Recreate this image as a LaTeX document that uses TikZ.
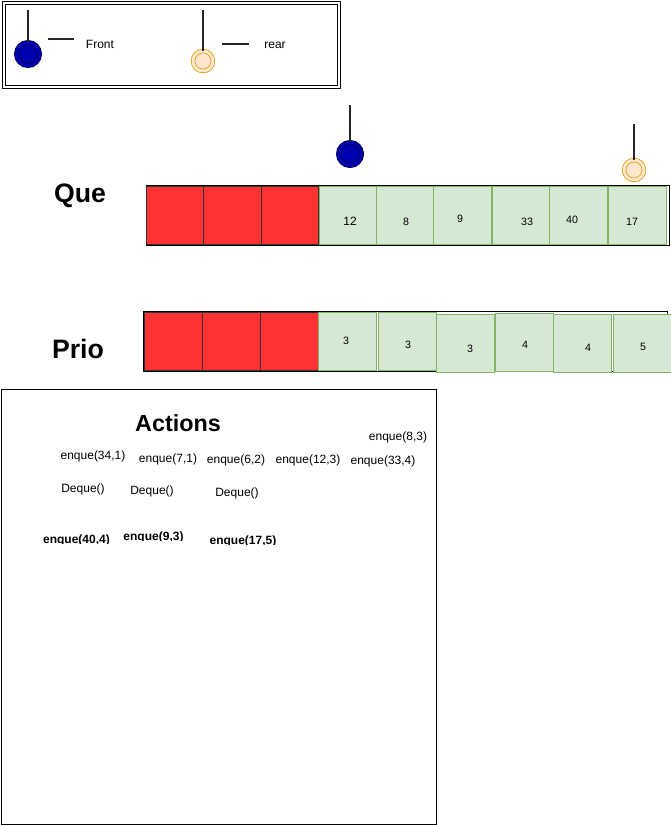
\documentclass[tikz,border=0pt]{standalone}
\usepackage{fontspec}
\setmainfont{Liberation Sans}
\usetikzlibrary{positioning}

\definecolor{cellred}{HTML}{FF3333}
\definecolor{cellgreen}{HTML}{D5E8D4}
\definecolor{cellgreenline}{HTML}{82B366}
\definecolor{frontblue}{HTML}{0000B4}
\definecolor{frontline}{HTML}{000050}
\definecolor{rearfill}{HTML}{FFE6CC}
\definecolor{rearline}{HTML}{D79B00}

\tikzset{
	cell/.style = {rectangle, minimum width=43pt, minimum height=43.5pt, inner sep=0pt, outer sep=0pt, line width=0.75pt},
	usedcell/.style = {cell, draw=black!80, fill=cellred},
	freecell/.style = {cell, draw=cellgreenline, fill=cellgreen},
	frontptr/.style = {circle, minimum size=17pt, inner sep=0pt, draw=frontline, line width=0.7pt, fill=frontblue, double=frontblue, double distance=2.6pt},
	rearptr/.style = {circle, minimum size=15pt, inner sep=0pt, draw=rearline, line width=0.55pt, fill=rearfill, double=rearfill, double distance=2.2pt},
	stick/.style = {line width=1.1pt, draw=black!85},
	small/.style = {font=\fontsize{9}{11}\selectfont, inner sep=0pt},
	digit/.style = {font=\fontsize{8}{10}\selectfont, inner sep=0pt},
	smallbold/.style = {font=\fontsize{9}{11}\selectfont\bfseries, inner sep=0pt, anchor=base},
	title/.style = {font=\fontsize{20}{24}\selectfont\bfseries, inner sep=0pt}
}

\begin{document}
\begin{tikzpicture}[x=0.75pt, y=-0.75pt]
	\useasboundingbox (0,0) rectangle (671,825);

	% legend
	\node [draw, double, double distance=1.5pt, line width=0.75pt, minimum width=251.25pt, minimum height=63pt, inner sep=0pt] (legend) at (171,44.5) {};
	\node [frontptr] (lfront) at (28,54) {};
	\node [rearptr] (lrear) at (203,61) {};
	\coordinate (lfronttop) at (28,10);
	\coordinate (lreartop) at (203,10);
	\draw [stick] (lfronttop) -- (lfront.north);
	\draw [stick] (lreartop) -- (lrear.north);
	\coordinate (dash1a) at (48,39);
	\coordinate (dash1b) at (74,39);
	\coordinate (dash2a) at (222,44);
	\coordinate (dash2b) at (249,44);
	\draw [stick] (dash1a) -- (dash1b);
	\draw [stick] (dash2a) -- (dash2b);
	\node [small] (frontlbl) at (100,44) {Front};
	\node [small] (rearlbl) at (275,45) {rear};

	% queue of values
	\node [title] (que) at (80,196) {Que};
	\node [draw, line width=0.75pt, minimum width=392.25pt, minimum height=45pt, inner sep=0pt] (querow) at (407.5,215) {};
	\node [usedcell] (q1) at (175.5,215) {};
	\node [usedcell] (q2) at (232.5,215) {};
	\node [usedcell] (q3) at (290,215) {};
	\node [freecell] (q4) at (348,215) {};
	\node [freecell] (q5) at (405.5,215) {};
	\node [freecell] (q6) at (462.5,215) {};
	\node [freecell] (q7) at (521.5,215) {};
	\node [freecell] (q8) at (578.5,215) {};
	\node [freecell] (q9) at (637.5,215) {};
	\node [small] (v12) at (350,221) {12};
	\node [digit] (v8) at (406,222) {8};
	\node [digit] (v9) at (460,219) {9};
	\node [digit] (v33) at (527,222) {33};
	\node [digit] (v40) at (572,220) {40};
	\node [digit] (v17) at (632,222) {17};

	% front and rear pointers
	\node [frontptr] (front) at (350,154) {};
	\node [rearptr] (rear) at (634,170) {};
	\coordinate (fronttop) at (350,105);
	\coordinate (reartop) at (634,124);
	\draw [stick, line width=0.9pt] (fronttop) -- (front.north);
	\draw [stick, line width=0.9pt] (reartop) -- (rear.north);

	% queue of priorities
	\node [title] (prio) at (78,349) {Prio};
	\node [draw, line width=0.75pt, minimum width=393pt, minimum height=45pt, inner sep=0pt] (priorow) at (405,341) {};
	\node [usedcell, minimum width=43.5pt] (p1) at (173,341) {};
	\node [usedcell, minimum width=43.5pt] (p2) at (231,341) {};
	\node [usedcell, minimum width=43.5pt] (p3) at (289,341) {};
	\foreach \cx/\cy [count=\k from 4] in {347.5/341, 407/341, 465/343, 524/342, 582/343.5, 642/343}
		\node [freecell, minimum width=43.5pt] (p\k) at (\cx,\cy) {};
	\node [digit] (w1) at (346,341) {3};
	\node [digit] (w2) at (408,345) {3};
	\node [digit] (w3) at (470,349) {3};
	\node [digit] (w4) at (525,345) {4};
	\node [digit] (w5) at (588,348) {4};
	\node [digit] (w6) at (643,347) {5};

	% actions
	\node [draw, line width=0.75pt, minimum width=326.25pt, minimum height=326.25pt, inner sep=0pt] (actions) at (218.5,606.5) {};
	\node [title, font=\fontsize{17.5}{21}\selectfont\bfseries] (actlbl) at (178,423) {Actions};
	\node [small] (a1) at (398,437) {enque(8,3)};
	\node [small] (a2) at (93,456) {enque(34,1)};
	\node [small] (a3) at (168,459) {enque(7,1)};
	\node [small] (a4) at (236,460) {enque(6,2)};
	\node [small] (a5) at (308,460) {enque(12,3)};
	\node [small] (a6) at (383,461) {enque(33,4)};
	\node [small] (d1) at (83,489) {Deque()};
	\node [small] (d2) at (152,491) {Deque()};
	\node [small] (d3) at (237,493) {Deque()};
	% last three are cut off at the baseline
	\foreach \px/\py/\txt [count=\i] in {76.5/543.5/{enque(40,4)}, 153.5/540/{enque(9,3)}, 243/544.5/{enque(17,5)}} {
		\begin{scope}
			\clip (\px-45,520) rectangle (\px+45,\py);
			\node [smallbold] (e\i) at (\px,\py) {\txt};
		\end{scope}
	}
\end{tikzpicture}
\end{document}
